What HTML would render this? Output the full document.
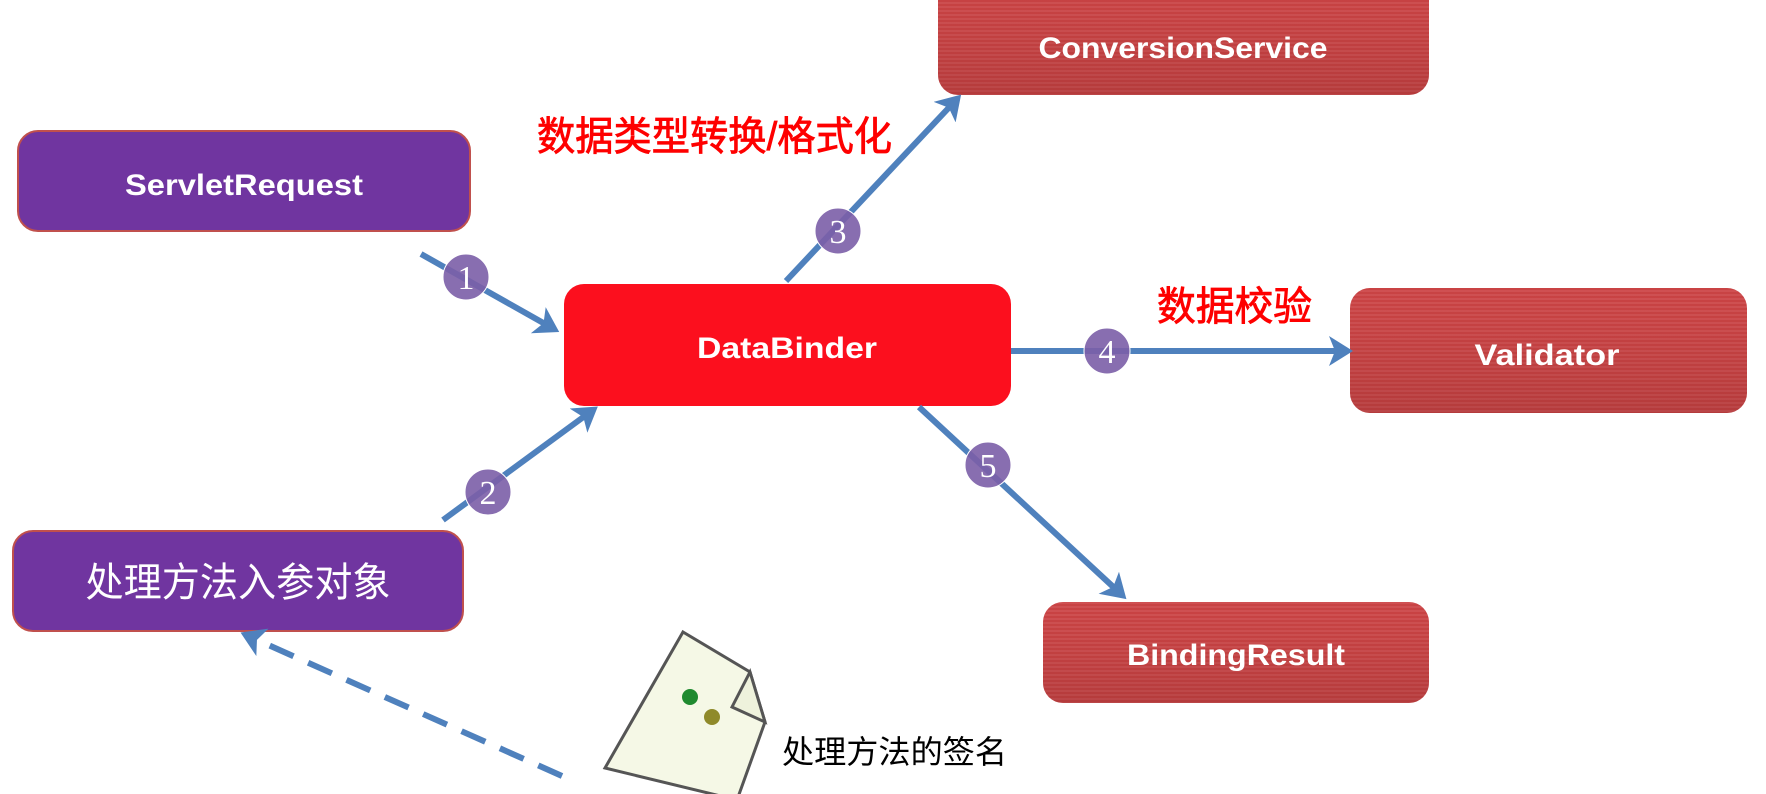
<!DOCTYPE html>
<html><head><meta charset="utf-8"><style>
html,body{margin:0;padding:0;background:#fff;width:1766px;height:794px;overflow:hidden}
</style></head><body>
<svg width="1766" height="794" viewBox="0 0 1766 794" xmlns="http://www.w3.org/2000/svg">
<defs>
<pattern id="st" width="4" height="4" patternUnits="userSpaceOnUse">
<rect width="4" height="2" fill="#c94445"/><rect y="2" width="4" height="2" fill="#d15557"/>
</pattern>
<linearGradient id="rg" x1="0" y1="0" x2="0" y2="1">
<stop offset="0" stop-color="#c93f3f" stop-opacity="0.2"/><stop offset="1" stop-color="#8e2a2a" stop-opacity="0.35"/>
</linearGradient>
<marker id="ah" markerWidth="5" markerHeight="5" refX="3" refY="2.5" orient="auto" markerUnits="strokeWidth">
<path d="M0,0 L4,2.5 L0,5 L1,2.5 z" fill="#4f81bd"/>
</marker>
</defs>
<g font-family="'Liberation Sans','Noto Sans CJK SC',sans-serif">
<rect x="18" y="131" width="452" height="100" rx="20" fill="#7035a0" stroke="#c0504d" stroke-width="2"/>
<text x="244" y="195" fill="#fff" font-size="30" font-weight="bold" text-anchor="middle" textLength="238" lengthAdjust="spacingAndGlyphs">ServletRequest</text>
<rect x="13" y="531" width="450" height="100" rx="20" fill="#7035a0" stroke="#c0504d" stroke-width="2"/>
<text x="238" y="596" fill="#fff" font-size="40" text-anchor="middle" textLength="305" lengthAdjust="spacingAndGlyphs">处理方法入参对象</text>
<rect x="564" y="284" width="447" height="122" rx="20" fill="#fc0f1e"/>
<text x="787" y="358" fill="#fff" font-size="30" font-weight="bold" text-anchor="middle" textLength="180" lengthAdjust="spacingAndGlyphs">DataBinder</text>
<rect x="938" y="-20" width="491" height="115" rx="20" fill="url(#st)"/>
<rect x="938" y="-20" width="491" height="115" rx="20" fill="url(#rg)"/>
<text x="1183" y="58" fill="#fff" font-size="30" font-weight="bold" text-anchor="middle" textLength="289" lengthAdjust="spacingAndGlyphs">ConversionService</text>
<rect x="1350" y="288" width="397" height="125" rx="20" fill="url(#st)"/>
<rect x="1350" y="288" width="397" height="125" rx="20" fill="url(#rg)"/>
<text x="1547" y="365" fill="#fff" font-size="30" font-weight="bold" text-anchor="middle" textLength="145" lengthAdjust="spacingAndGlyphs">Validator</text>
<rect x="1043" y="602" width="386" height="101" rx="20" fill="url(#st)"/>
<rect x="1043" y="602" width="386" height="101" rx="20" fill="url(#rg)"/>
<text x="1236" y="665" fill="#fff" font-size="30" font-weight="bold" text-anchor="middle" textLength="218" lengthAdjust="spacingAndGlyphs">BindingResult</text>
<text x="537" y="150" fill="#fe0000" font-size="40" stroke="#fe0000" stroke-width="0.8" textLength="355" lengthAdjust="spacingAndGlyphs">数据类型转换/格式化</text>
<text x="1157" y="320" fill="#fe0000" font-size="40" stroke="#fe0000" stroke-width="0.8" textLength="155" lengthAdjust="spacingAndGlyphs">数据校验</text>
<text x="782" y="763" fill="#000" font-size="32" textLength="225" lengthAdjust="spacingAndGlyphs">处理方法的签名</text>
<g stroke="#4f81bd" stroke-width="6" fill="none" marker-end="url(#ah)">
<line x1="421" y1="254" x2="554" y2="329"/>
<line x1="443" y1="520" x2="593" y2="410"/>
<line x1="786" y1="281" x2="957" y2="99"/>
<line x1="1011" y1="351" x2="1347" y2="351"/>
<line x1="919" y1="407" x2="1122" y2="595"/>
<line x1="562" y1="776" x2="246" y2="635" stroke-dasharray="26,16"/>
</g>
<g fill="#7b5ea7" fill-opacity="0.9" stroke="#fff" stroke-width="1">
<circle cx="466" cy="277" r="23"/><circle cx="488" cy="492" r="23"/><circle cx="838" cy="231" r="23"/>
<circle cx="1107" cy="351" r="23"/><circle cx="988" cy="465" r="23"/>
</g>
<g fill="#fff" font-size="34" text-anchor="middle" font-family="'Liberation Serif',serif">
<text x="466" y="289">1</text><text x="488" y="504">2</text><text x="838" y="243">3</text>
<text x="1107" y="363">4</text><text x="988" y="477">5</text>
</g>
<polygon points="683,632 750,672 765,722 737,800 605,768" fill="#f5f8e6" stroke="#555" stroke-width="3"/>
<polygon points="750,672 765,722 732,707" fill="#eef2dc" stroke="#555" stroke-width="3"/>
<circle cx="690" cy="697" r="8" fill="#1f8a2f"/>
<circle cx="712" cy="717" r="8" fill="#8f8a2a"/>
</g>
</svg>
</body></html>
